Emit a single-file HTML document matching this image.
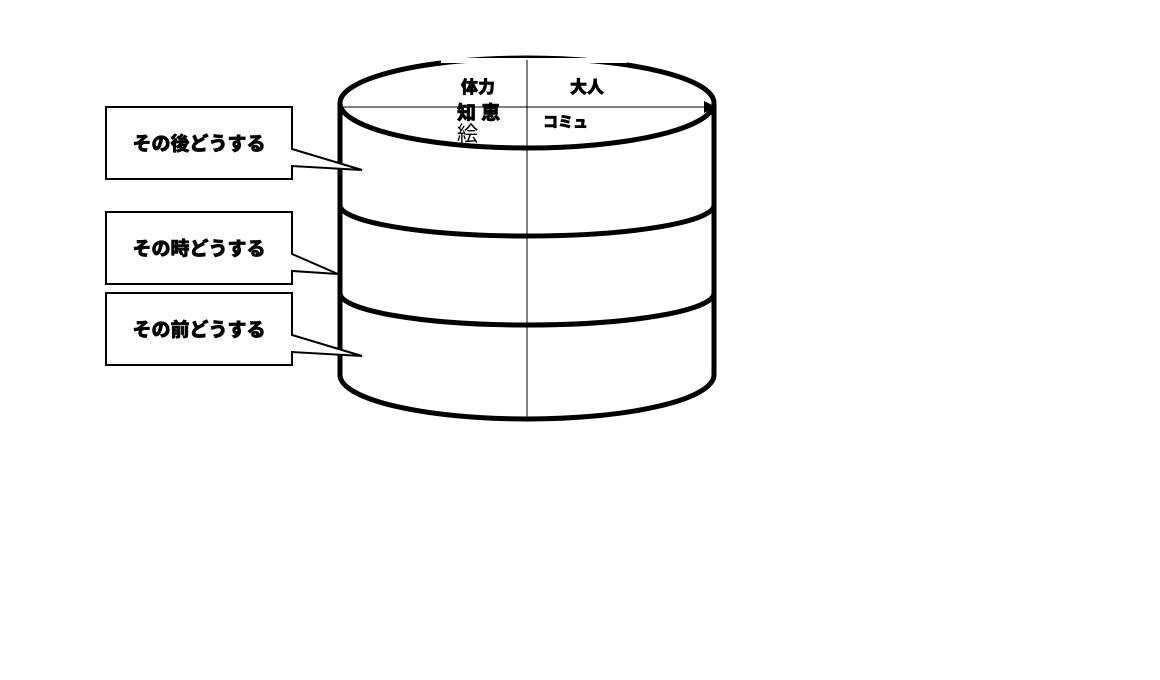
<!DOCTYPE html>
<html><head><meta charset="utf-8"><style>
body{margin:0;background:#fff;width:1160px;height:680px;overflow:hidden}
svg{display:block}
text{font-family:"Liberation Sans","Noto Sans CJK JP",sans-serif;font-weight:900;fill:#000;stroke:#000;stroke-width:0.6}
</style></head><body>
<svg width="1160" height="680" viewBox="0 0 1160 680">
<g fill="none" stroke="#000" stroke-width="5">
<ellipse cx="527" cy="103" rx="187" ry="45"/>
<line x1="340" y1="103" x2="340" y2="375"/>
<line x1="714" y1="103" x2="714" y2="375"/>
<path d="M340 375 A187 44 0 0 0 714 375"/>
<path d="M340 205 A187 31 0 0 0 714 205"/>
<path d="M340 293 A187 32 0 0 0 714 293"/>
</g>
<rect x="441" y="58" width="186" height="5" fill="#fff"/>
<line x1="527" y1="60" x2="527" y2="418" stroke="#000" stroke-width="1"/>
<line x1="340" y1="107" x2="706" y2="107" stroke="#000" stroke-width="1"/>
<polygon points="704,101 716,107 704,113" fill="#000"/>
<text x="461" y="93" font-size="17">体力</text>
<text x="570" y="93" font-size="17">大人</text>
<text x="457" y="119" font-size="19">知 恵</text>
<text x="457" y="141" font-size="21" style="font-weight:normal;stroke:none">絵</text>
<text x="543" y="127" font-size="15">コミュ</text>
<g fill="#fff" stroke="#000" stroke-width="2">
<path d="M106 107 H292 V149 L362 170 L292 166 V179 H106 Z"/>
<path d="M106 212 H292 V254 L338 274 L292 271 V284 H106 Z"/>
<path d="M106 293 H292 V335 L362 356 L292 352 V365 H106 Z"/>
</g>
<text x="199" y="150" font-size="19" text-anchor="middle">その後どうする</text>
<text x="199" y="255" font-size="19" text-anchor="middle">その時どうする</text>
<text x="199" y="336" font-size="19" text-anchor="middle">その前どうする</text>
</svg>
</body></html>
